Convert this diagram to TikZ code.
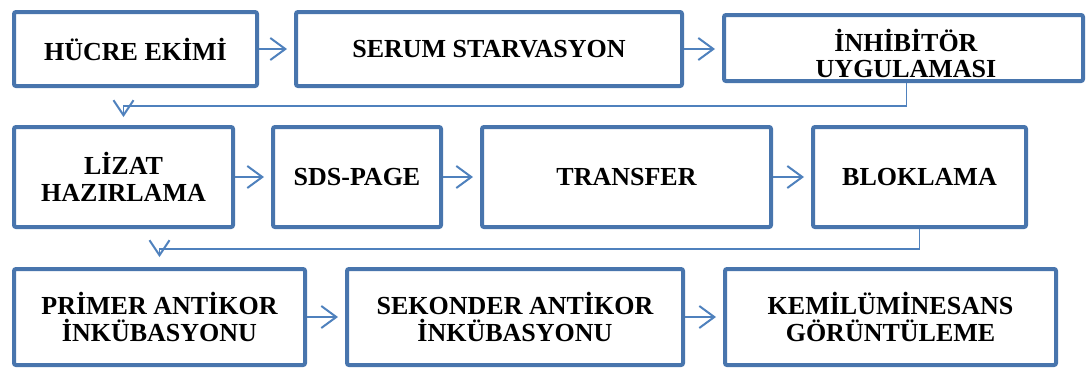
\documentclass[tikz,border=0pt]{standalone}
\usepackage{fontspec}
\setmainfont{Liberation Serif}
\usetikzlibrary{arrows.meta}
\definecolor{boxblue}{RGB}{72,117,173}
\definecolor{arrowblue}{RGB}{79,129,189}
\begin{document}
\begin{tikzpicture}[x=1pt,y=-1pt,
  stepbox/.style={draw=boxblue, line width=4pt, rounded corners=2pt, fill=white,
    align=center, inner sep=0pt, font=\bfseries\fontsize{26}{26.5}\selectfont},
  flow/.style={draw=arrowblue, line width=2pt,
    -{Straight Barb[length=15pt,width=22pt,line width=2pt]}, shorten >=7pt},
  link/.style={draw=arrowblue, line width=1.5pt,
    -{Straight Barb[length=15pt,width=20pt,line width=2pt]}}]
\useasboundingbox (0,0) rectangle (1088,370);

% first row
\node[stepbox, minimum width=243pt, minimum height=74pt] (ekim) at (135.5,49) {HÜCRE EKİMİ};
\node[stepbox, minimum width=386pt, minimum height=74pt] (serum) at (489,49) {SERUM STARVASYON};
\node[stepbox, minimum width=359pt, minimum height=66pt] (inhib) at (903.5,48) {};
\node[align=center, inner sep=0pt, font=\bfseries\fontsize{26}{26}\selectfont]
  (inhibtext) at (906,53) {İNHİBİTÖR\\UYGULAMASI};

% second row
\node[stepbox, minimum width=219pt, minimum height=100pt] (lizat) at (123.5,177) {LİZAT\\HAZIRLAMA};
\node[stepbox, minimum width=168pt, minimum height=100pt] (sds) at (357,177) {SDS-PAGE};
\node[stepbox, minimum width=289pt, minimum height=100pt] (transfer) at (626.5,177) {TRANSFER};
\node[stepbox, minimum width=213pt, minimum height=100pt] (blok) at (919.5,177) {BLOKLAMA};

% third row
\node[stepbox, minimum width=291pt, minimum height=96pt] (primer) at (159.5,317) {PRİMER ANTİKOR\\İNKÜBASYONU};
\node[stepbox, minimum width=336pt, minimum height=96pt] (sekonder) at (515,317) {SEKONDER ANTİKOR\\İNKÜBASYONU};
\node[stepbox, minimum width=331pt, minimum height=96pt] (kemi) at (890.5,317) {KEMİLÜMİNESANS\\GÖRÜNTÜLEME};

% arrows within rows
\draw[flow] (ekim.east) -- (ekim.east -| serum.west);
\draw[flow] (serum.east) -- (serum.east -| inhib.west);
\draw[flow] (lizat.east) -- (lizat.east -| sds.west);
\draw[flow] (sds.east) -- (sds.east -| transfer.west);
\draw[flow] (transfer.east) -- (transfer.east -| blok.west);
\draw[flow] (primer.east) -- (primer.east -| sekonder.west);
\draw[flow] (sekonder.east) -- (sekonder.east -| kemi.west);

% arrows between rows
\draw[link, shorten >=8pt] ([xshift=3pt]inhib.south) -- ++(0,23) -| (lizat.north);
\draw[link, shorten >=10pt] (blok.south) -- ++(0,20) -| (primer.north);
\end{tikzpicture}
\end{document}
